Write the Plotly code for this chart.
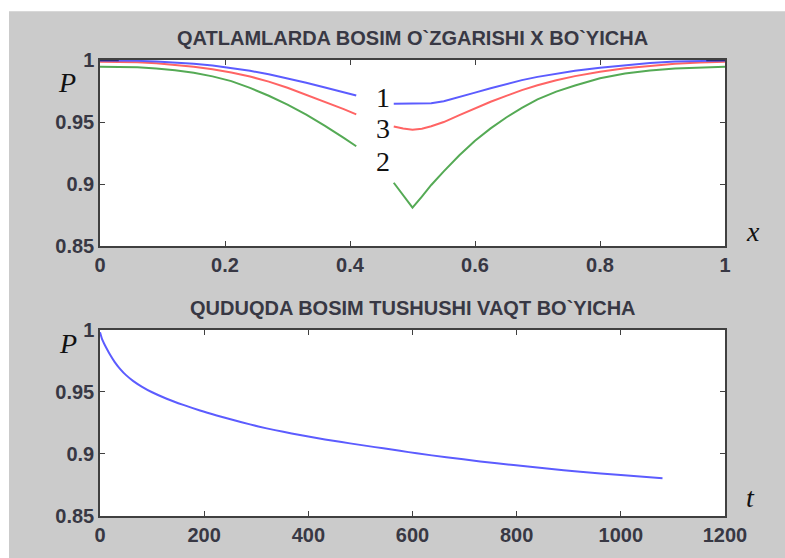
import plotly.graph_objects as go
from plotly.subplots import make_subplots

# ---------------- data ----------------
# Top chart: pressure along x (two segments around the well at x=0.5)
x_left = [0, 0.03, 0.06, 0.09, 0.12, 0.15, 0.18, 0.21, 0.24, 0.27, 0.30, 0.33, 0.36, 0.39, 0.41]
p1_left = [0.9995, 0.9995, 0.9993, 0.9988, 0.9981, 0.9970, 0.9956, 0.9937, 0.9913, 0.9885,
           0.9853, 0.9817, 0.9779, 0.9740, 0.9714]
p3_left = [0.9986, 0.9985, 0.9981, 0.9973, 0.9961, 0.9945, 0.9925, 0.9900, 0.9867, 0.9826,
           0.9776, 0.9720, 0.9662, 0.9604, 0.9562]
p2_left = [0.9946, 0.9945, 0.9941, 0.9932, 0.9918, 0.9897, 0.9868, 0.9830, 0.9775, 0.9712,
           0.9640, 0.9560, 0.9470, 0.9372, 0.9305]

x_right = [0.47, 0.485, 0.50, 0.515, 0.53, 0.55, 0.575, 0.6, 0.625, 0.65, 0.675, 0.7, 0.73,
           0.76, 0.8, 0.84, 0.88, 0.92, 0.96, 1.0]
p1_right = [0.9647, 0.9647, 0.9647, 0.9647, 0.9652, 0.9668, 0.9700, 0.9737, 0.9773, 0.9808,
            0.9838, 0.9864, 0.9891, 0.9914, 0.9938, 0.9959, 0.9976, 0.9988, 0.9993, 0.9995]
p3_right = [0.9465, 0.9448, 0.9439, 0.9447, 0.9466, 0.9500, 0.9556, 0.9612, 0.9664, 0.9711,
            0.9757, 0.9796, 0.9837, 0.9870, 0.9906, 0.9934, 0.9955, 0.9970, 0.9980, 0.9986]
p2_right = [0.9011, 0.8913, 0.8810, 0.8900, 0.8993, 0.9103, 0.9233, 0.9350, 0.9449, 0.9537,
            0.9615, 0.9683, 0.9745, 0.9794, 0.9853, 0.9892, 0.9916, 0.9932, 0.9941, 0.9946]

# short dark overlap segments at the very edges (P = 1)
x_edge_left = [0, 0.03]
x_edge_right = [0.97, 1.0]
p_edge = [0.9997, 0.9997]

# Bottom chart: pressure in the well over time
t_vals = [0, 4, 8, 13, 20, 28, 38, 50, 64, 80, 100, 128, 160, 192, 224, 256, 288, 320, 352,
          384, 416, 448, 480, 512, 544, 576, 608, 665, 730, 794, 858, 922, 1000, 1080]
p_well = [0.998, 0.9925, 0.9888, 0.9848, 0.9795, 0.9742, 0.9688, 0.9635, 0.9587, 0.9543,
          0.9497, 0.9445, 0.9395, 0.9350, 0.9310, 0.9273, 0.9238, 0.9206, 0.9178, 0.9152,
          0.9128, 0.9106, 0.9085, 0.9065, 0.9045, 0.9025, 0.9005, 0.8973, 0.8940, 0.8910,
          0.8882, 0.8856, 0.8830, 0.8805]

# ticks
x_top_ticks = [0, 0.2, 0.4, 0.6, 0.8, 1]
x_top_labels = ["0", "0.2", "0.4", "0.6", "0.8", "1"]
y_ticks = [0.85, 0.9, 0.95, 1]
y_labels = ["0.85", "0.9", "0.95", "1"]
t_ticks = [0, 200, 400, 600, 800, 1000, 1200]
t_labels = ["0", "200", "400", "600", "800", "1000", "1200"]

title_top = "QATLAMLARDA BOSIM O`ZGARISHI X BO`YICHA"
title_bottom = "QUDUQDA BOSIM TUSHUSHI VAQT BO`YICHA"
curve_labels = ["1", "3", "2"]
curve_label_x = [0.453, 0.453, 0.453]
curve_label_y = [0.9700, 0.9451, 0.9182]

# ---------------- styles ----------------
BLUE = "#5c5cff"
RED = "#ff6464"
GREEN = "#55aa55"
NAVY = "#2a2a7a"
AX = "#404040"
TXT = "#383844"
GRAY_BG = "#cbcbcb"

fig = make_subplots(rows=2, cols=1)

lw = 2
for xs, ys, c in [(x_left, p2_left, GREEN), (x_right, p2_right, GREEN),
                  (x_left, p3_left, RED), (x_right, p3_right, RED),
                  (x_left, p1_left, BLUE), (x_right, p1_right, BLUE),
                  (x_edge_left, p_edge, NAVY), (x_edge_right, p_edge, NAVY)]:
    fig.add_trace(go.Scatter(x=xs, y=ys, mode="lines", line=dict(color=c, width=lw),
                             showlegend=False, hoverinfo="skip"), row=1, col=1)

fig.add_trace(go.Scatter(x=t_vals, y=p_well, mode="lines",
                         line=dict(color=BLUE, width=lw, shape="spline", smoothing=0.6),
                         showlegend=False, hoverinfo="skip"), row=2, col=1)

tickfont = dict(family="Liberation Sans, Arial", size=20, color=TXT, weight="bold")
axis_common = dict(showgrid=False, zeroline=False, showline=True, mirror="ticks",
                   linecolor=AX, linewidth=1.5, ticks="inside", ticklen=5,
                   tickcolor=AX, tickwidth=1.2, tickfont=tickfont)

fig.update_xaxes(range=[0, 1], tickvals=x_top_ticks, ticktext=x_top_labels,
                 domain=[0, 1], **axis_common, row=1, col=1)
fig.update_yaxes(range=[0.85, 1], tickvals=y_ticks, ticktext=y_labels,
                 domain=[0.5917, 1], **axis_common, row=1, col=1)
fig.update_xaxes(range=[0, 1200], tickvals=t_ticks, ticktext=t_labels,
                 domain=[0, 1], **axis_common, row=2, col=1)
fig.update_yaxes(range=[0.85, 1], tickvals=y_ticks, ticktext=y_labels,
                 domain=[0, 0.4083], **axis_common, row=2, col=1)

annotations = []
titlefont = dict(family="Liberation Sans, Arial", size=20, color=TXT, weight="bold")
annotations.append(dict(text=title_top, xref="paper", yref="paper", x=0.5, y=1.048,
                        showarrow=False, font=titlefont, xanchor="center", yanchor="middle"))
annotations.append(dict(text=title_bottom, xref="paper", yref="paper", x=0.5, y=0.4563,
                        showarrow=False, font=titlefont, xanchor="center", yanchor="middle"))

serif_it = dict(family="Liberation Serif, Times New Roman", size=28, color="#111111")
annotations.append(dict(text="<i>P</i>", xref="paper", yref="paper", x=-0.053, y=0.950,
                        showarrow=False, font=serif_it, xanchor="center", yanchor="middle"))
annotations.append(dict(text="<i>P</i>", xref="paper", yref="paper", x=-0.051, y=0.378,
                        showarrow=False, font=serif_it, xanchor="center", yanchor="middle"))
annotations.append(dict(text="<i>x</i>", xref="paper", yref="paper", x=1.045, y=0.624,
                        showarrow=False, font=serif_it, xanchor="center", yanchor="middle"))
annotations.append(dict(text="<i>t</i>", xref="paper", yref="paper", x=1.04, y=0.041,
                        showarrow=False, font=serif_it, xanchor="center", yanchor="middle"))

serif = dict(family="Liberation Serif, Times New Roman", size=28, color="#111111")
for lab, lx, ly in zip(curve_labels, curve_label_x, curve_label_y):
    annotations.append(dict(text=lab, xref="x", yref="y", x=lx, y=ly, showarrow=False,
                            font=serif, xanchor="center", yanchor="middle"))

shapes = [
    dict(type="rect", xref="paper", yref="paper", x0=-0.2, x1=-0.1456, y0=-0.2, y1=1.3,
         fillcolor="white", line=dict(width=0), layer="above"),
    dict(type="rect", xref="paper", yref="paper", x0=-0.2, x1=1.2, y0=1.107, y1=1.3,
         fillcolor="white", line=dict(width=0), layer="above"),
]

fig.update_layout(width=785, height=558, margin=dict(l=100, r=60, t=60, b=40),
                  paper_bgcolor=GRAY_BG, plot_bgcolor="white",
                  annotations=annotations, shapes=shapes, showlegend=False)

fig.write_html("out.html")
